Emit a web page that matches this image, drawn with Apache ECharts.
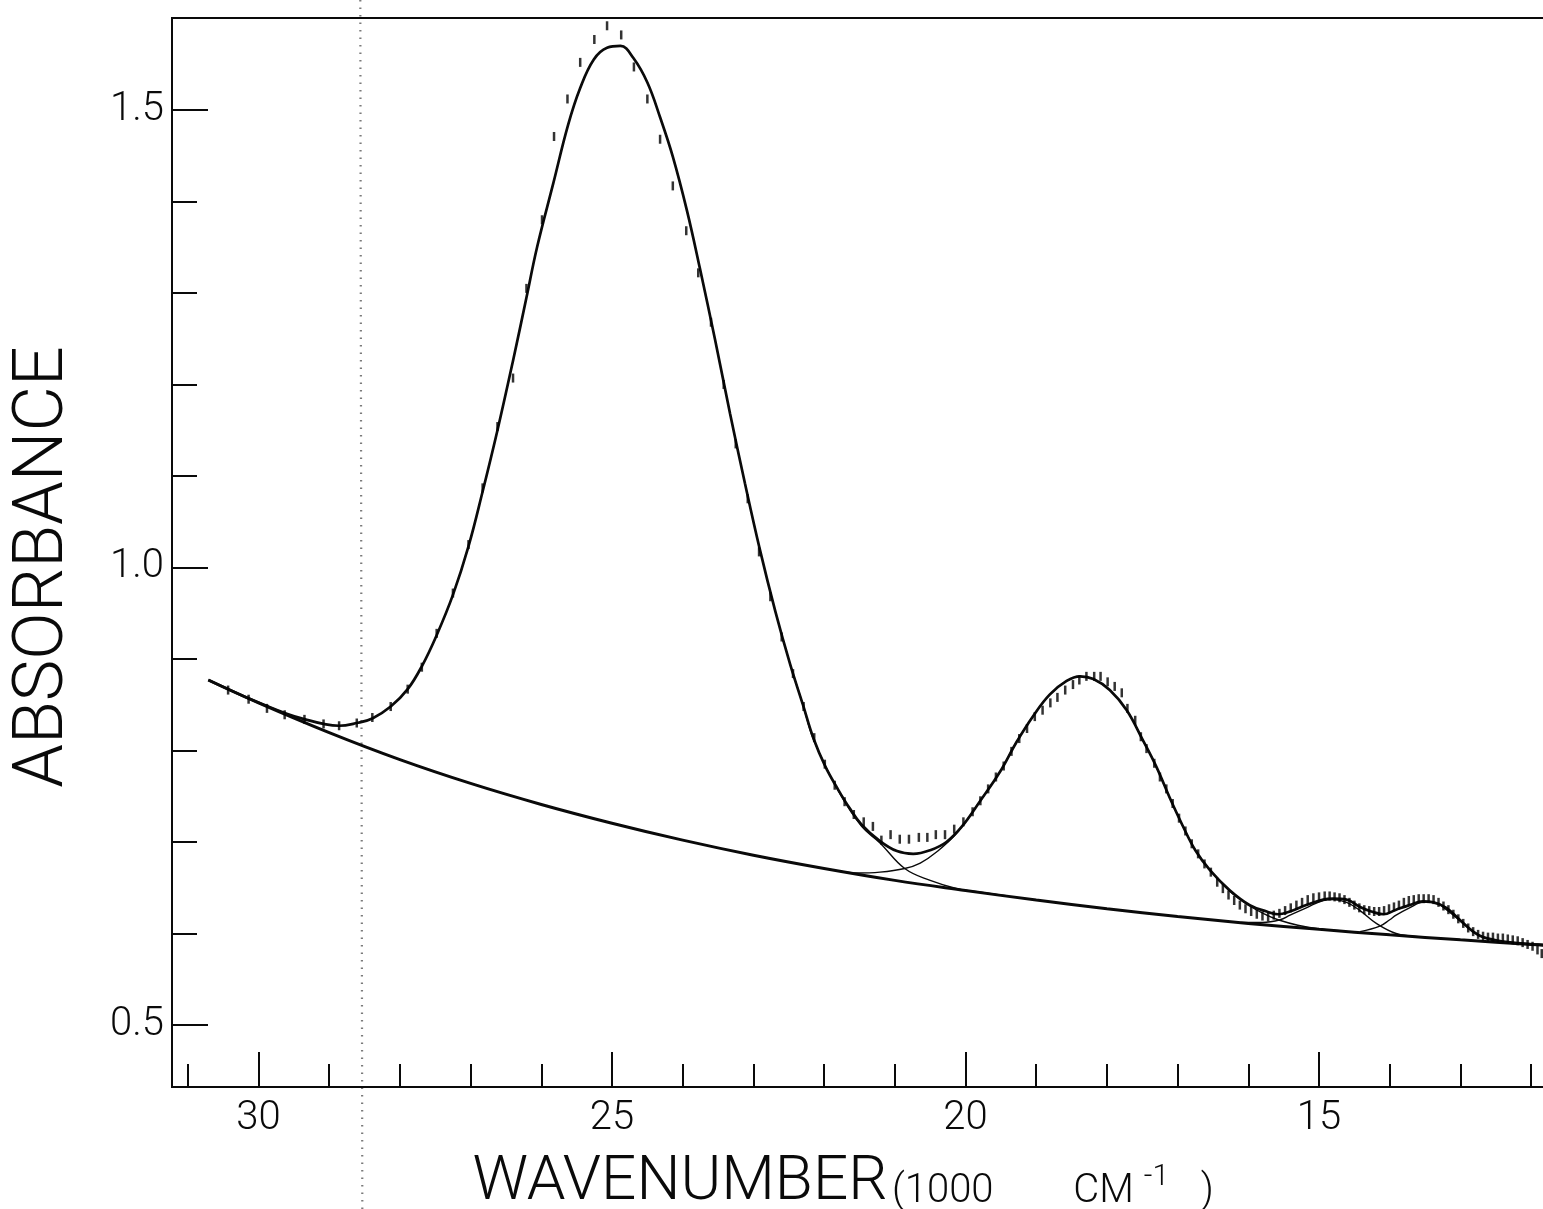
<!DOCTYPE html>
<html>
<head>
<meta charset="utf-8">
<script src="https://cdn.jsdelivr.net/npm/echarts@6/dist/echarts.min.js"></script>
<style>
html,body{margin:0;padding:0;background:#ffffff;}
#chart{width:1543px;height:1209px;}
</style>
</head>
<body>
<div id="chart"></div>
<script>
// ---------- tick values ----------
const xMajorTicks = [30, 25, 20, 15];
const xMinorTicks = [31, 29, 28, 27, 26, 24, 23, 22, 21, 19, 18, 17, 16, 14, 13, 12];
const yMajorTicks = [0.5, 1.0, 1.5];
const yMinorTicks = [0.6, 0.7, 0.8, 0.9, 1.1, 1.2, 1.3, 1.4];

// ---------- total fitted curve (wavenumber in 1000 cm-1, absorbance) ----------
const fitWn = [30.71, 30.17, 29.60, 29.34, 29.08, 28.86, 28.61, 28.39, 28.13, 27.89, 27.69, 27.48, 27.25, 27.03,
  26.83, 26.62, 26.40, 26.21, 26.06, 25.83, 25.62, 25.45, 25.26, 25.07, 24.88, 24.70, 24.50, 24.32, 24.14, 23.94,
  23.76, 23.54, 23.33, 23.12, 22.91, 22.69, 22.48, 22.30, 22.15, 21.98, 21.80, 21.64, 21.47, 21.21, 20.97, 20.74,
  20.50, 20.27, 20.05, 19.80, 19.51, 19.28, 19.04, 18.81, 18.57, 18.38, 18.19, 17.96, 17.72, 17.49, 17.30, 17.11,
  16.93, 16.75, 16.54, 16.26, 15.98, 15.74, 15.58, 15.41, 15.18, 14.94, 14.80, 14.61, 14.42, 14.26, 14.09, 13.91,
  13.72, 13.53, 13.38, 13.20, 13.01, 12.82, 12.68, 12.39, 12.11, 11.72];
const fitAbs = [0.877, 0.858, 0.840, 0.834, 0.829, 0.827, 0.830, 0.835, 0.848, 0.867, 0.892, 0.926, 0.970, 1.023,
  1.083, 1.150, 1.226, 1.295, 1.350, 1.420, 1.484, 1.524, 1.555, 1.568, 1.570, 1.557, 1.530, 1.492, 1.449, 1.390,
  1.328, 1.248, 1.168, 1.092, 1.020, 0.952, 0.894, 0.850, 0.813, 0.782, 0.757, 0.737, 0.719, 0.701, 0.690, 0.687,
  0.691, 0.700, 0.717, 0.744, 0.777, 0.809, 0.838, 0.861, 0.876, 0.881, 0.878, 0.866, 0.844, 0.811, 0.782, 0.748,
  0.718, 0.691, 0.669, 0.647, 0.631, 0.624, 0.621, 0.624, 0.631, 0.637, 0.638, 0.637, 0.629, 0.624, 0.621, 0.626,
  0.631, 0.635, 0.634, 0.628, 0.615, 0.602, 0.596, 0.591, 0.589, 0.587];

// ---------- baseline ----------
const baseWn = [30.71, 30.0, 29.0, 28.0, 27.0, 26.0, 25.0, 24.0, 23.0, 22.0, 21.0, 20.0, 19.0, 18.0, 17.0, 16.0,
  15.0, 14.0, 13.0, 12.0, 11.72];
const baseAbs = [0.877, 0.852, 0.8195, 0.790, 0.764, 0.741, 0.7205, 0.702, 0.6855, 0.671, 0.658, 0.647, 0.6365,
  0.627, 0.6185, 0.611, 0.6045, 0.5985, 0.593, 0.588, 0.5867];

// ---------- component bands (band + baseline) ----------
const band1Wn = [22.48, 22.30, 22.15, 21.80, 21.47, 21.21, 20.86, 20.50, 20.12, 19.79, 19.40];
const band1Abs = [0.894, 0.850, 0.812, 0.756, 0.717, 0.699, 0.671, 0.658, 0.649, 0.645, 0.641];

const band2Wn = [21.78, 21.54, 21.21, 20.86, 20.64, 20.41, 20.12, 19.80, 19.51, 19.28, 19.04, 18.81, 18.57, 18.38,
  18.19, 17.96, 17.72, 17.49, 17.30, 17.11, 16.93, 16.75, 16.54, 16.26, 15.98, 15.74, 15.58, 15.30, 15.00, 14.70];
const band2Abs = [0.668, 0.666, 0.667, 0.671, 0.677, 0.689, 0.710, 0.744, 0.777, 0.809, 0.838, 0.861, 0.876, 0.881,
  0.878, 0.866, 0.844, 0.811, 0.782, 0.748, 0.718, 0.691, 0.669, 0.646, 0.630, 0.620, 0.615, 0.609, 0.605, 0.603];

const band3Wn = [16.10, 15.80, 15.55, 15.41, 15.18, 14.94, 14.80, 14.61, 14.42, 14.19, 13.91, 13.60];
const band3Abs = [0.612, 0.612, 0.615, 0.620, 0.628, 0.636, 0.637, 0.634, 0.625, 0.611, 0.600, 0.5965];

const band4Wn = [14.42, 14.14, 14.00, 13.91, 13.72, 13.53, 13.38, 13.20, 13.01, 12.82, 12.68, 12.40];
const band4Abs = [0.602, 0.608, 0.615, 0.620, 0.628, 0.634, 0.634, 0.626, 0.614, 0.602, 0.596, 0.590];

// ---------- measured points (vertical dashes) ----------
const obsWn = [30.43, 30.14, 29.88, 29.63, 29.35, 29.08, 28.86, 28.61, 28.39, 28.13, 27.89, 27.69,
  27.48, 27.25, 27.03, 26.83, 26.62, 26.40, 26.21, 25.99, 25.82, 25.63, 25.45, 25.25, 25.07, 24.87, 24.69, 24.50,
  24.32, 24.14, 23.95, 23.78, 23.60, 23.42, 23.25, 23.08, 22.92, 22.76, 22.60, 22.44, 22.29, 22.14, 21.99, 21.85,
  21.71, 21.58, 21.44, 21.31, 21.19, 21.06, 20.93, 20.80, 20.66, 20.54, 20.42, 20.29, 20.16, 20.03, 19.90,
  19.79, 19.68, 19.57, 19.46, 19.35, 19.24, 19.13, 19.02, 18.91, 18.80, 18.70, 18.59, 18.48, 18.39, 18.29, 18.18,
  18.09, 17.99, 17.89, 17.79, 17.71, 17.60, 17.52, 17.44, 17.33, 17.25, 17.16, 17.07, 16.98, 16.89, 16.80, 16.71,
  16.62, 16.53, 16.44, 16.36, 16.28, 16.20, 16.12, 16.04, 15.96, 15.88, 15.80, 15.72, 15.64, 15.56, 15.48, 15.40,
  15.32, 15.24, 15.16, 15.08, 15.00, 14.92, 14.85, 14.78, 14.71, 14.64, 14.57, 14.50, 14.43, 14.36, 14.29, 14.22,
  14.15, 14.08, 14.01, 13.94, 13.87, 13.80, 13.73, 13.66, 13.59, 13.52, 13.45, 13.38, 13.31, 13.24, 13.17, 13.10,
  13.03, 12.96, 12.89, 12.82, 12.75, 12.68, 12.61, 12.54, 12.47, 12.40, 12.33, 12.26, 12.19, 12.12, 12.05, 11.98,
  11.91, 11.85];
const obsAbs = [0.866, 0.856, 0.846, 0.839, 0.834, 0.829, 0.827, 0.830, 0.836, 0.848, 0.867, 0.891,
  0.928, 0.972, 1.025, 1.087, 1.154, 1.207, 1.305, 1.380, 1.471, 1.512, 1.552, 1.577, 1.592, 1.582, 1.547, 1.512,
  1.468, 1.417, 1.368, 1.322, 1.268, 1.200, 1.135, 1.075, 1.017, 0.968, 0.924, 0.884, 0.848, 0.814, 0.785, 0.762,
  0.744, 0.730, 0.722, 0.717, 0.702, 0.708, 0.703, 0.703, 0.705, 0.705, 0.708, 0.708, 0.714, 0.722, 0.733,
  0.745, 0.758, 0.771, 0.783, 0.799, 0.813, 0.824, 0.837, 0.844, 0.852, 0.858, 0.866, 0.872, 0.877, 0.881, 0.881,
  0.881, 0.875, 0.870, 0.863, 0.846, 0.833, 0.815, 0.802, 0.786, 0.771, 0.758, 0.742, 0.726, 0.712, 0.698, 0.687,
  0.676, 0.667, 0.656, 0.649, 0.642, 0.636, 0.631, 0.627, 0.624, 0.621, 0.619, 0.618, 0.620, 0.622, 0.625, 0.628,
  0.631, 0.634, 0.637, 0.639, 0.640, 0.641, 0.641, 0.640, 0.639, 0.637, 0.634, 0.631, 0.628, 0.626, 0.625, 0.624,
  0.624, 0.625, 0.627, 0.629, 0.631, 0.634, 0.636, 0.637, 0.638, 0.638, 0.638, 0.637, 0.634, 0.630, 0.626, 0.621,
  0.616, 0.611, 0.606, 0.602, 0.599, 0.597, 0.596, 0.596, 0.595, 0.595, 0.594, 0.593, 0.592, 0.590, 0.588, 0.586,
  0.582, 0.578];

// ---------- axis ranges ----------
const X_LEFT = 31.2235, X_RIGHT = 11.719;
const Y_MIN = 0.4322, Y_MAX = 1.6005;
const ARTIFACT_WN = 28.56;   // dotted scan streak in the reference

const zip = (xs, ys) => xs.map((x, i) => [x, ys[i]]);
const FONT = "Roboto, 'DejaVu Sans', sans-serif";
const INK = '#0a0a0a';

const chart = echarts.init(document.getElementById('chart'), null, {renderer: 'canvas'});

const xBase = {
  type: 'value', inverse: true, min: X_RIGHT, max: X_LEFT, position: 'bottom',
  splitLine: {show: false}
};
const yBase = {
  type: 'value', min: Y_MIN, max: Y_MAX, position: 'left',
  splitLine: {show: false}
};

const thinLine = {color: INK, width: 1.4};

const option = {
  animation: false,
  backgroundColor: '#ffffff',
  grid: {left: 172, right: -8, top: 18, bottom: 122, show: true, borderColor: INK, borderWidth: 2,
    backgroundColor: 'transparent', containLabel: false, outerBoundsMode: 'none'},
  xAxis: [
    Object.assign({}, xBase, {
      axisLine: {show: true, onZero: false, lineStyle: {color: INK, width: 2}},
      axisTick: {show: true, inside: true, length: 35, customValues: xMajorTicks, lineStyle: {color: INK, width: 2}},
      axisLabel: {show: true, customValues: xMajorTicks, margin: 12, fontSize: 40, fontWeight: 300,
        fontFamily: FONT, color: INK, formatter: v => String(v)}
    }),
    Object.assign({}, xBase, {
      axisLine: {show: false},
      axisTick: {show: true, inside: true, length: 23, customValues: xMinorTicks, lineStyle: {color: INK, width: 2}},
      axisLabel: {show: false}
    })
  ],
  yAxis: [
    Object.assign({}, yBase, {
      axisLine: {show: true, onZero: false, lineStyle: {color: INK, width: 2}},
      axisTick: {show: true, inside: true, length: 36, customValues: yMajorTicks, lineStyle: {color: INK, width: 2}},
      axisLabel: {show: true, customValues: yMajorTicks, margin: 8, fontSize: 40, fontWeight: 300,
        fontFamily: FONT, color: INK, formatter: v => v.toFixed(1)}
    }),
    Object.assign({}, yBase, {
      axisLine: {show: false},
      axisTick: {show: true, inside: true, length: 25, customValues: yMinorTicks, lineStyle: {color: INK, width: 2}},
      axisLabel: {show: false}
    })
  ],
  series: [
    {type: 'line', name: 'baseline', data: zip(baseWn, baseAbs), smooth: 0.4, symbol: 'none',
      lineStyle: {color: INK, width: 3}, z: 3},
    {type: 'line', name: 'band1', data: zip(band1Wn, band1Abs), smooth: 0.4, symbol: 'none', lineStyle: thinLine, z: 3},
    {type: 'line', name: 'band2', data: zip(band2Wn, band2Abs), smooth: 0.4, symbol: 'none', lineStyle: thinLine, z: 3},
    {type: 'line', name: 'band3', data: zip(band3Wn, band3Abs), smooth: 0.4, symbol: 'none', lineStyle: thinLine, z: 3},
    {type: 'line', name: 'band4', data: zip(band4Wn, band4Abs), smooth: 0.4, symbol: 'none', lineStyle: thinLine, z: 3},
    {type: 'line', name: 'fit', data: zip(fitWn, fitAbs), smooth: 0.4, symbol: 'none',
      lineStyle: {color: INK, width: 2.7}, z: 4},
    {type: 'scatter', name: 'observed', data: zip(obsWn, obsAbs), symbol: 'rect', symbolSize: [2.5, 9],
      itemStyle: {color: '#000'}, z: 5, silent: true}
  ],
  graphic: [
    {id: 'ytitle', type: 'text', x: 44, y: 567, rotation: Math.PI / 2,
      style: {text: 'ABSORBANCE', fontSize: 70, fontWeight: 300, fontFamily: FONT, fill: INK,
        align: 'center', verticalAlign: 'middle', textAlign: 'center', textVerticalAlign: 'middle'}},
    {id: 'xtitle', type: 'text', x: 680, y: 1183,
      style: {text: 'WAVENUMBER', fontSize: 62, fontWeight: 300, fontFamily: FONT, fill: INK,
        align: 'center', verticalAlign: 'middle', textAlign: 'center', textVerticalAlign: 'middle'}},
    {id: 'xunit', type: 'text', x: 892, y: 1187,
      style: {text: '{a|(1000}{c| CM}{b|-1}{d| )}', fontFamily: FONT, fill: INK,
        align: 'left', verticalAlign: 'middle', textAlign: 'left', textVerticalAlign: 'middle',
        rich: {
          a: {fontSize: 40, fontWeight: 300, fontFamily: FONT, lineHeight: 50, verticalAlign: 'bottom'},
          c: {fontSize: 40, fontWeight: 300, fontFamily: FONT, lineHeight: 50, verticalAlign: 'bottom',
            padding: [0, 0, 0, 70]},
          b: {fontSize: 30, fontWeight: 300, fontFamily: FONT, lineHeight: 50, verticalAlign: 'top',
            padding: [0, 0, 0, 10]},
          d: {fontSize: 40, fontWeight: 300, fontFamily: FONT, lineHeight: 50, verticalAlign: 'bottom',
            padding: [0, 0, 0, 22]}
        }}}
  ]
};
chart.setOption(option);

// dotted scan streak across the full height at its wavenumber position
const streakX = chart.convertToPixel({xAxisIndex: 0}, ARTIFACT_WN);
chart.setOption({
  graphic: [
    {id: 'streak', type: 'line', z: -1, silent: true,
      shape: {x1: streakX, y1: 0, x2: streakX + 2, y2: 1209},
      style: {stroke: '#222', lineWidth: 2.2, lineDash: [1.5, 6], opacity: 0.6}}
  ]
});
</script>
</body>
</html>
